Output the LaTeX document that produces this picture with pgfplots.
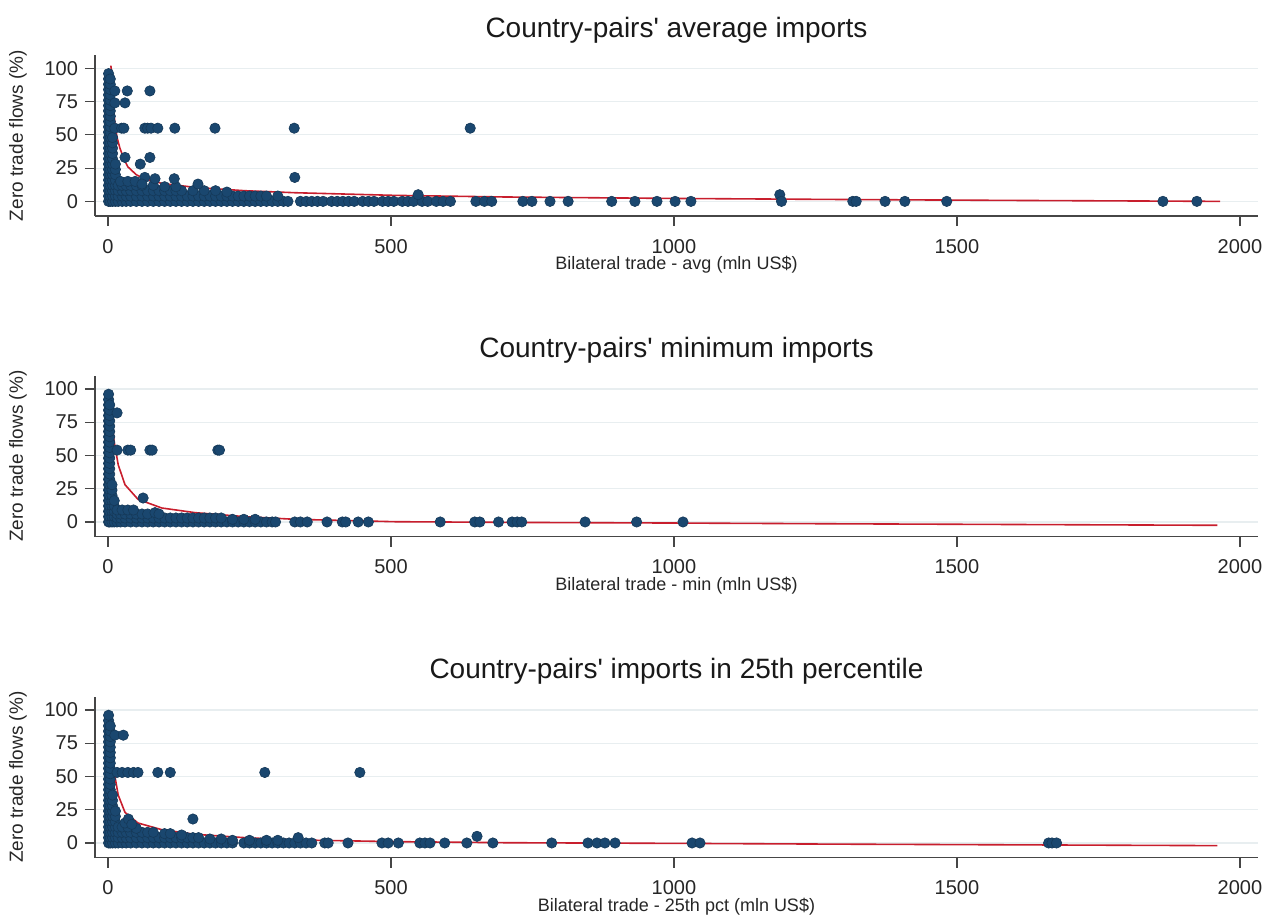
\documentclass[border=0pt]{standalone}
\usepackage{pgfplots}
\pgfplotsset{compat=1.18}
\usepackage{fontspec}
\setmainfont{Liberation Sans}[Ligatures=TeXOff]
\definecolor{stnavy}{RGB}{26,71,111}
\definecolor{stred}{RGB}{200,30,45}
\definecolor{stgrid}{RGB}{232,238,240}
\definecolor{staxis}{RGB}{70,70,70}
\pgfplotsset{
  zt/.style={
    scale only axis, width=581.5bp, height=80.5bp,
    anchor=south west,
    xmin=-23, xmax=2032, ymin=-11, ymax=110,
    axis x line*=bottom, axis y line*=left,
    axis line style={staxis, line width=0.8bp},
    xtick={0,500,1000,1500,2000}, ytick={0,25,50,75,100},
    tick align=outside, major tick length=5bp,
    tick style={staxis, line width=0.6bp},
    ymajorgrids, grid style={stgrid, line width=0.6bp},
    scaled x ticks=false,
    /pgf/number format/1000 sep={},
    /pgf/number format/assume math mode=true,
    ticklabel style={font=\fontsize{10bp}{12bp}\selectfont, text=black!85},
    xticklabel style={yshift=-3bp},
    every axis y label/.style={at={(axis description cs:-0.0662,0.5)}, rotate=90, anchor=center, font=\fontsize{9.5bp}{11bp}\selectfont, text=black!85},
    every axis x label/.style={at={(axis description cs:0.5,0)}, anchor=center, yshift=-24.5bp, font=\fontsize{9bp}{11bp}\selectfont, text=black!85},
    every axis title/.style={at={(axis description cs:0.5,1)}, anchor=center, yshift=12.5bp, font=\fontsize{14bp}{16bp}\selectfont, text=black!90},
    ylabel={Zero trade flows (\%)},
  },
  pts/.style={only marks, mark=*, mark size=2.6bp, mark options={fill=stnavy, draw=stnavy!80!black, line width=0.3bp}},
  fit/.style={no marks, stred, line width=0.8bp},
}
\begin{document}
\begin{tikzpicture}
\path[use as bounding box] (0bp,0bp) rectangle (637bp,-460bp);
% ---------------- Panel 1 ----------------
\begin{axis}[zt, at={(47.5bp,-108bp)}, title={Country-pairs' average imports}, xlabel={Bilateral trade - avg (mln US\$)}]
\addplot[pts] coordinates {
(1,0)(1,4)(1,8)(1,12)(1,16)(1,20)(1,24)(1,28)(1,32)(1,36)(1,40)(1,44)(1,48)(1,52)(1,56)(1,60)(1,64)(1,68)(1,72)(1,76)(1,80)(1,84)(1,88)(1,92)(1,96)
(4,0)(4,4)(4,8)(4,12)(4,16)(4,20)(4,24)(4,28)(4,32)(4,36)(4,40)(4,44)(4,48)(4,52)(4,56)(4,60)(4,64)(4,68)(4,72)(4,76)(4,80)(4,84)(4,88)(4,92)
(8,0)(8,4)(8,8)(8,12)(8,16)(8,20)(8,24)(8,28)(8,32)(8,36)(8,40)(8,44)(8,48)
(13,0)(13,4)(13,8)(13,12)(13,16)(13,20)(13,24)(13,28)
(18,0)(25,0)(32,0)(40,0)(50,0)(60,0)(70,0)(80,0)(90,0)(100,0)(110,0)(120,0)(130,0)(140,0)(150,0)(160,0)(170,0)(180,0)(190,0)(200,0)(210,0)(220,0)(230,0)(240,0)(250,0)(260,0)(270,0)(280,0)(290,0)(300,0)(310,0)(318,0)
(18,4)(25,4)(32,4)(40,4)(50,4)(60,4)(70,4)(80,4)(90,4)(100,4)(110,4)(120,4)(130,4)(140,4)(150,4)(160,4)(170,4)(180,4)(190,4)(200,4)(210,4)(220,4)(230,4)(240,4)(250,4)(260,4)(270,4)(280,4)(300,4)
(18,8)(25,8)(32,8)(40,8)(50,8)(60,8)(70,8)(80,8)(90,8)(100,8)(110,8)(120,8)(130,8)(150,8)(170,8)(190,8)(210,7)
(18,12)(25,12)(32,12)(40,12)(50,12)(60,12)(80,12)(100,11)(120,11)
(22,15)(35,15)(48,15)
(340,0)(350,0)(360,0)(370,0)(380,0)(395,0)(405,0)(415,0)(425,0)(435,0)(450,0)(460,0)(470,0)(485,0)(495,0)(505,0)(520,0)(530,0)(540,0)(555,0)(565,0)(580,0)(592,0)(605,0)(548,5)
(12,83)(34,83)(74,83)
(12,74)(30,74)
(12,55)(24,55)(28,55)(65,55)(70,55)(76,55)(88,55)(118,55)(189,55)(329,55)(640,55)
(30,33)(74,33)(57,28)
(65,18)(83,17)(117,17)(330,18)(60,13)(159,13)
(1187,5)
(650,0)(665,0)(678,0)(733,0)(749,0)(781,0)(813,0)(890,0)(931,0)(970,0)(1002,0)(1030,0)(1190,0)(1316,0)(1322,0)(1373,0)(1408,0)(1482,0)(1864,0)(1924,0)
};
\addplot[fit] coordinates {
(5,102)(7,95)(9,75)(12,59)(16,48)(21,40)(28,32)(35,26)(50,20)(65,17)(95,13.5)(154,10.5)(242,8)(330,6.5)(507,4.5)(700,3.3)(1000,2.2)(1300,1.4)(1600,0.7)(1965,0)
};
\end{axis}
% ---------------- Panel 2 ----------------
\begin{axis}[zt, at={(47.5bp,-268.3bp)}, title={Country-pairs' minimum imports}, xlabel={Bilateral trade - min (mln US\$)}]
\addplot[pts] coordinates {
(1,0)(1,4)(1,8)(1,12)(1,16)(1,20)(1,24)(1,28)(1,32)(1,36)(1,40)(1,44)(1,48)(1,52)(1,56)(1,60)(1,64)(1,68)(1,72)(1,76)(1,80)(1,84)(1,88)(1,92)(1,96)
(3,0)(3,4)(3,8)(3,12)(3,16)(3,20)(3,24)(3,28)(3,32)(3,36)(3,40)(3,44)(3,48)(3,52)(3,56)(3,60)(3,64)(3,68)(3,72)(3,76)(3,80)(3,84)(3,88)
(7,0)(7,4)(7,8)(7,12)(7,16)(7,20)(7,24)(7,28)
(11,0)(11,4)(11,8)(11,12)(11,16)
(16,0)(22,0)(30,0)(40,0)(50,0)(60,0)(70,0)(80,0)(90,0)(100,0)(110,0)(120,0)(130,0)(140,0)(150,0)(160,0)(170,0)(180,0)(190,0)(200,0)(210,0)(220,0)(230,0)(240,0)(250,0)(260,0)(270,0)(280,0)(290,0)(296,0)
(16,3)(22,3)(30,3)(40,3)(50,3)(60,3)(70,3)(80,3)(90,3)(100,3)(110,3)(120,3)(130,3)(140,3)(150,3)(160,3)(170,3)(180,3)(190,3)(200,3)(220,2)(240,2)(260,2)
(16,6)(22,6)(30,6)(40,6)(50,6)(60,6)(70,6)(83,7)(90,6)
(16,9)(25,9)(35,9)(45,9)
(16,82)
(16,54)(35,54)(40,54)(74,54)(78,54)(194,54)(197,54)
(62,18)
(330,0)(340,0)(352,0)(387,0)(414,0)(420,0)(442,0)(460,0)(587,0)(648,0)(657,0)(690,0)(714,0)(723,0)(731,0)(843,0)(934,0)(1016,0)
};
\addplot[fit] coordinates {
(4,95)(7,75)(11,60)(18,43)(30,28)(53,17)(95,10.5)(154,7)(242,4)(330,2)(507,0.2)(700,-0.3)(1000,-0.8)(1300,-1.4)(1600,-1.9)(1960,-2.5)
};
\end{axis}
% ---------------- Panel 3 ----------------
\begin{axis}[zt, at={(47.5bp,-428.8bp)}, title={Country-pairs' imports in 25th percentile}, xlabel={Bilateral trade - 25th pct (mln US\$)}]
\addplot[pts] coordinates {
(1,0)(1,4)(1,8)(1,12)(1,16)(1,20)(1,24)(1,28)(1,32)(1,36)(1,40)(1,44)(1,48)(1,52)(1,56)(1,60)(1,64)(1,68)(1,72)(1,76)(1,80)(1,84)(1,88)(1,92)(1,96)
(4,0)(4,4)(4,8)(4,12)(4,16)(4,20)(4,24)(4,28)(4,32)(4,36)(4,40)(4,44)(4,48)(4,52)(4,56)(4,60)(4,64)(4,68)(4,72)(4,76)(4,80)(4,84)(4,88)
(8,0)(8,4)(8,8)(8,12)(8,16)(8,20)(8,24)(8,28)(8,32)(8,36)
(13,0)(13,4)(13,8)(13,12)(13,16)(13,20)(13,24)
(18,0)(25,0)(32,0)(40,0)(50,0)(60,0)(70,0)(80,0)(90,0)(100,0)(110,0)(120,0)(130,0)(140,0)(150,0)(160,0)(170,0)(180,0)(190,0)(200,0)(210,0)(220,0)(240,0)(250,0)(260,0)(270,0)(280,0)(290,0)(300,0)(310,0)(320,0)(330,0)(340,0)(350,0)(360,0)
(18,4)(25,4)(32,4)(40,4)(50,4)(60,4)(70,4)(80,4)(90,4)(100,4)(110,4)(120,4)(130,4)(140,4)(150,4)(160,4)(180,3)(200,3)(220,2)(250,2)(280,2)(300,2)
(18,8)(25,8)(32,8)(40,8)(50,8)(60,8)(70,8)(80,8)(100,7)(110,7)(130,6)
(18,12)(25,12)(35,12)(50,11)
(12,81)(27,81)
(16,53)(25,53)(35,53)(45,53)(53,53)(88,53)(110,53)(277,53)(445,53)
(150,18)(30,15)(36,18)(42,14)
(336,4)(652,5)
(383,0)(389,0)(424,0)(484,0)(495,0)(513,0)(551,0)(560,0)(569,0)(595,0)(634,0)(680,0)(784,0)(848,0)(864,0)(878,0)(896,0)(1032,0)(1046,0)(1662,0)(1668,0)(1676,0)
};
\addplot[fit] coordinates {
(0,98)(4,86)(7,74)(11,53)(18,36)(30,23)(53,15)(95,10)(154,6.5)(242,4)(330,2.3)(507,1)(700,0.2)(1000,-0.3)(1300,-0.9)(1600,-1.4)(1960,-2)
};
\end{axis}
\end{tikzpicture}
\end{document}
